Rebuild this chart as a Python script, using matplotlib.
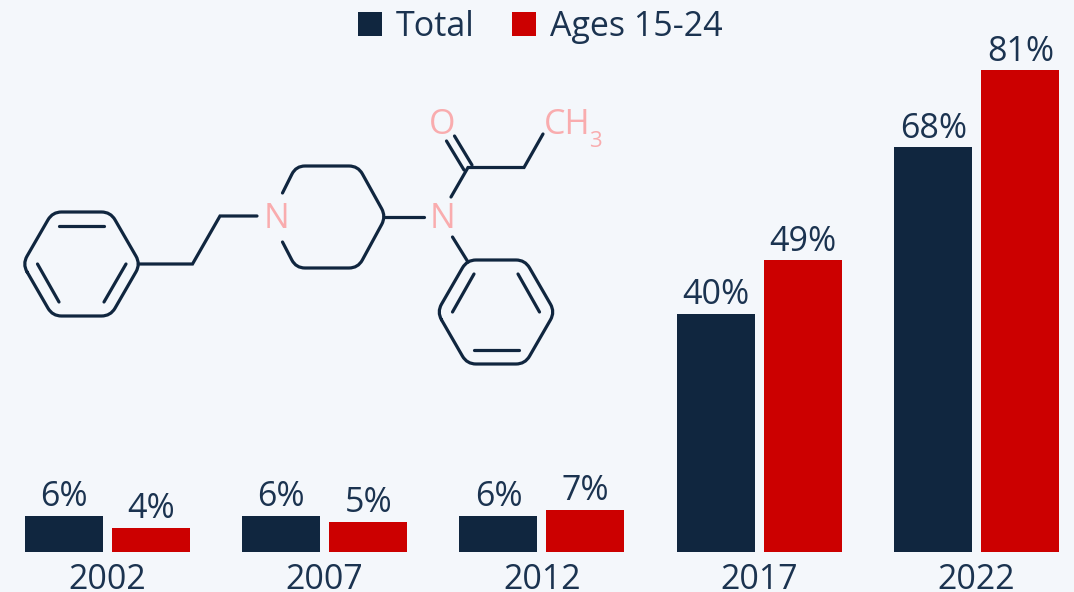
import numpy as np
import matplotlib
matplotlib.use("Agg")
import matplotlib.pyplot as plt
from matplotlib.path import Path
from matplotlib.patches import PathPatch

years = ["2002", "2007", "2012", "2017", "2022"]
total = [6, 6, 6, 40, 68]
ages_15_24 = [4, 5, 7, 49, 81]

NAVY = "#10263f"
RED = "#cc0000"
BG = "#f4f7fb"
PINK = "#f9acae"
TEXT = "#1b3350"

plt.rcParams["font.family"] = ["Open Sans", "DejaVu Sans"]

W, H = 1074, 592
fig = plt.figure(figsize=(W / 100, H / 100), dpi=100, facecolor=BG)
ax = fig.add_axes([0, 40.5 / H, 1, 1 - 40.5 / H], facecolor=BG)

x = np.arange(len(years))
bar_w = 78 / 217.3
off = 43.5 / 217.3
b1 = ax.bar(x - off, total, bar_w, color=NAVY, label="Total")
b2 = ax.bar(x + off, ages_15_24, bar_w, color=RED, label="Ages 15-24")
ax.set_xlim(-107.2 / 217.3, (W - 107.2) / 217.3)
ax.set_ylim(0, 551.5 / 5.944)

for bars, vals in ((b1, total), (b2, ages_15_24)):
    for r, v in zip(bars, vals):
        ax.annotate(f"{v}%", (r.get_x() + r.get_width() / 2, v),
                    xytext=(0.3, 6.8), textcoords="offset points",
                    ha="center", va="baseline", fontsize=24.5, color=TEXT)

ax.set_xticks(x, years)
ax.tick_params(axis="x", length=0, pad=8.5, labelsize=24.5, labelcolor=TEXT)
ax.set_yticks([])
for s in ax.spines.values():
    s.set_visible(False)

ax.legend(handles=[b1, b2], loc="upper center", bbox_to_anchor=(540 / W, 1.0),
          ncol=2, frameon=False, fontsize=24.5, labelcolor=TEXT,
          handlelength=0.705, handleheight=0.705, handletextpad=0.41,
          columnspacing=1.1, borderpad=0, borderaxespad=0.29)

# decorative fentanyl molecule, in pixel coordinates
m = fig.add_axes([0, 0, 1, 1], facecolor="none")
m.set_xlim(0, W)
m.set_ylim(H, 0)
m.axis("off")
LW = 2.3


def rounded(pts, r, closed=True):
    pts = [np.array(p, float) for p in pts]
    n = len(pts)
    verts, codes = [], []
    idx = range(n) if closed else range(1, n - 1)
    if not closed:
        verts.append(pts[0])
        codes.append(Path.MOVETO)
    first = True
    for i in idx:
        p, a, b = pts[i], pts[i - 1], pts[(i + 1) % n]
        u = (a - p) / np.linalg.norm(a - p)
        v = (b - p) / np.linalg.norm(b - p)
        verts.append(p + u * r)
        codes.append(Path.MOVETO if (closed and first) else Path.LINETO)
        first = False
        verts += [p, p + v * r]
        codes += [Path.CURVE3, Path.CURVE3]
    if closed:
        verts.append(verts[0])
        codes.append(Path.LINETO)
    else:
        verts.append(pts[-1])
        codes.append(Path.LINETO)
    m.add_patch(PathPatch(Path(verts, codes), fill=False, ec=NAVY, lw=LW,
                          capstyle="round", joinstyle="round"))


def hexagon(cx, cy):
    return [(cx - 59, cy), (cx - 29, cy - 52), (cx + 29, cy - 52),
            (cx + 59, cy), (cx + 29, cy + 52), (cx - 29, cy + 52)]


rounded(hexagon(81.5, 264), 9)
rounded(hexagon(496, 312), 9)
rounded([(282.5, 193), (296, 166), (358, 166), (386, 216.5), (358, 268),
         (296, 268), (282.5, 242)], 9, closed=False)

segments = [
    [(139, 264), (192.5, 264), (220, 216), (257, 216)],
    [(385, 216.5), (424, 216.5)],
    [(451, 197), (468, 167.5), (524, 167.5), (543, 134)],
    [(454.5, 136), (472, 165)],
    [(446.5, 141), (464, 170)],
    [(452.5, 237), (468, 262)],
    [(59, 226), (104, 226)],
    [(37.5, 264), (59, 302)],
    [(126, 264), (104, 302)],
    [(474, 274), (452.5, 312)],
    [(518, 274), (539.5, 312)],
    [(473.5, 350), (518.5, 350)],
]
for seg in segments:
    xs, ys = zip(*seg)
    m.plot(xs, ys, color=NAVY, lw=LW, solid_capstyle="round", solid_joinstyle="miter")

for s, px, py, size in [("N", 276, 228, 24.5), ("N", 442, 228, 24.5), ("O", 442, 134.5, 24.5),
                        ("CH", 567, 134.5, 24.5), ("3", 595.5, 147, 16)]:
    m.text(px, py, s, ha="center", va="baseline", fontsize=size, color=PINK)

fig.savefig("out.png", dpi=100, facecolor=BG)
